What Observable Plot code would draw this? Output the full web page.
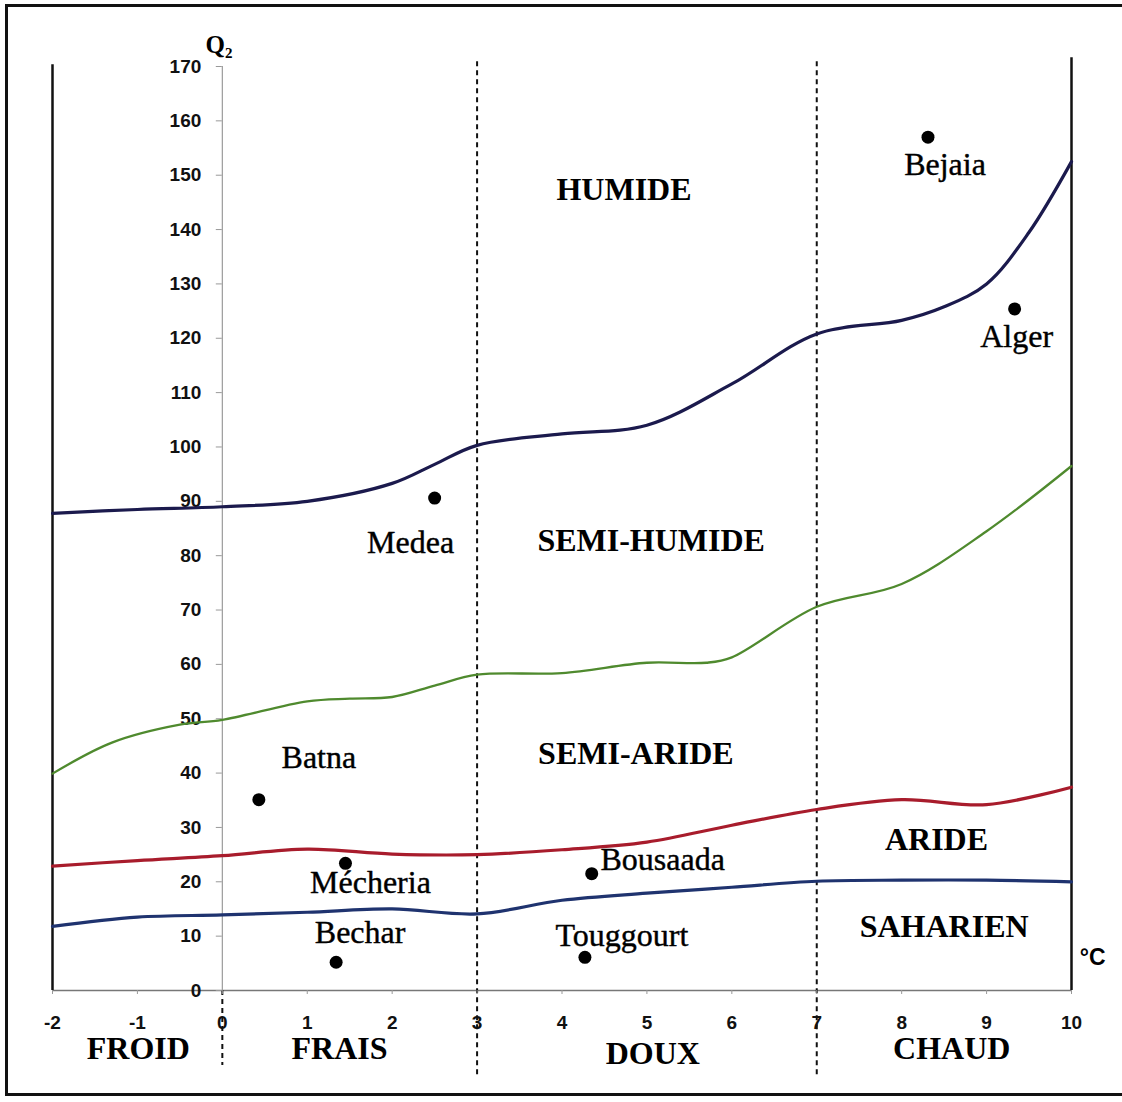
<!DOCTYPE html>
<html>
<head>
<meta charset="utf-8">
<script src="https://cdn.jsdelivr.net/npm/d3@7"></script>
<script src="https://cdn.jsdelivr.net/npm/@observablehq/plot@0.6"></script>
<style>
  html, body { margin: 0; padding: 0; background: #fff; }
  #wrap { position: relative; width: 1122px; height: 1102px; overflow: hidden; }
  #frame { position: absolute; left: 5px; top: 4px; width: 1140px; height: 1092px; border: 3px solid #111; box-sizing: border-box; }
  #chart { position: absolute; left: 0; top: 0; }
</style>
</head>
<body>
<div id="wrap"><div id="frame"></div><div id="chart"></div></div>
<script>
// ---- Data ----
const tempTicks = [-2, -1, 0, 1, 2, 3, 4, 5, 6, 7, 8, 9, 10];
const q2Ticks = [0, 10, 20, 30, 40, 50, 60, 70, 80, 90, 100, 110, 120, 130, 140, 150, 160, 170];

// Boundary curves (x = m, °C ; y = Q2)
const humideT = [-2, -1, 0, 1, 2, 2.5, 3, 4, 5, 6, 7, 8, 8.5, 9, 9.5, 10];
const humideQ = [87.8, 88.5, 89.0, 90.0, 93.3, 96.8, 100.3, 102.4, 104.0, 111.6, 120.8, 123.3, 125.8, 130.0, 139.5, 152.5];

const semiHumideT = [-2, -1.3, -0.5, 0, 1, 1.5, 2, 2.5, 3, 4, 5, 5.7, 6, 7, 8, 9, 10];
const semiHumideQ = [39.9, 45.6, 48.9, 49.8, 53.2, 53.7, 54.0, 56.1, 58.1, 58.4, 60.3, 60.3, 61.3, 70.6, 74.8, 84.5, 96.5];

const arideT = [-2, -1, 0, 1, 2, 3, 4, 5, 6, 7, 8, 9, 10];
const arideQ = [22.9, 23.9, 24.8, 26.0, 25.1, 25.0, 25.9, 27.3, 30.4, 33.3, 35.1, 34.2, 37.4];

const saharienT = [-2, -1, 0, 1, 2, 3, 4, 5, 6, 7, 8, 9, 10];
const saharienQ = [11.8, 13.5, 13.9, 14.4, 15.0, 14.1, 16.6, 17.9, 19.0, 20.1, 20.3, 20.3, 20.0];

// Stations
const stationNames = ["Medea", "Batna", "Mécheria", "Bechar", "Bousaada", "Touggourt", "Bejaia", "Alger"];
const stationM = [2.50, 0.43, 1.45, 1.34, 4.35, 4.27, 8.31, 9.33];
const stationQ2 = [90.6, 35.1, 23.4, 5.2, 21.5, 6.1, 157.0, 125.4];

// Bioclimatic zones
const zoneNames = ["HUMIDE", "SEMI-HUMIDE", "SEMI-ARIDE", "ARIDE", "SAHARIEN"];
const zoneM = [4.73, 5.05, 4.87, 8.41, 8.50];
const zoneQ2 = [147.4, 82.8, 43.6, 27.8, 11.8];

// Thermal variants (below the axis)
const thermalNames = ["FROID", "FRAIS", "DOUX", "CHAUD"];
const thermalM = [-0.99, 1.38, 5.07, 8.59];
const thermalQ2 = [-10.8, -10.8, -11.7, -10.8];

// Thermal class limits
const limitsM = [3, 7];

// ---- Layout (label offsets in pixels, relative to each station dot) ----
const labelOffsets = [[-24, 45], [60, -42], [25, 19], [24, -29], [71, -14], [37, -22], [17, 28], [2, 28]];

const curveColors = {humide: "#1b1a4d", semiHumide: "#4f8a2e", aride: "#a81c2c", saharien: "#1f336f"};

const serif = "'Liberation Serif', 'Times New Roman', serif";
const sans = "'Liberation Sans', Arial, sans-serif";

function series(ts, qs) { return ts.map((t, i) => ({t, q: qs[i]})); }
const stations = stationNames.map((name, i) => ({name, t: stationM[i], q: stationQ2[i]}));
const zones = zoneNames.map((name, i) => ({name, t: zoneM[i], q: zoneQ2[i]}));
const thermals = thermalNames.map((name, i) => ({name, t: thermalM[i], q: thermalQ2[i]}));

const chart = Plot.plot({
  width: 1122,
  height: 1102,
  marginLeft: 52,
  marginRight: 51,
  marginTop: 66,
  marginBottom: 112,
  style: {background: "transparent", overflow: "visible"},
  x: {domain: [-2, 10]},
  y: {domain: [0, 170]},
  marks: [
    // frame lines
    Plot.ruleY([0], {x1: -2, x2: 10, stroke: "#777", strokeWidth: 1.3}),
    Plot.ruleX([-2], {y1: 0, y2: 170.3, stroke: "#111", strokeWidth: 2.5}),
    Plot.ruleX([10], {y1: 0, y2: 171.6, stroke: "#111", strokeWidth: 2.5}),
    // y axis line at 0 °C
    Plot.ruleX([0], {y1: 0, y2: 170, stroke: "#9a9a9a", strokeWidth: 1.2}),
    Plot.ruleX([0], {y1: 0, y2: -13.8, stroke: "#111", strokeWidth: 2, strokeDasharray: "5,4"}),
    // thermal limits
    Plot.ruleX(limitsM, {y1: -15.5, y2: 171, stroke: "#111", strokeWidth: 2, strokeDasharray: "5,4"}),
    // axes
    Plot.axisY(q2Ticks, {anchor: "left", dx: 169.8, tickSize: 6, tickPadding: 15, stroke: "#999",
      fill: "#111", fontSize: 19, fontWeight: "bold", fontFamily: sans, label: null, tickFormat: d => String(d)}),
    Plot.axisX(tempTicks, {anchor: "bottom", tickSize: 4, tickPadding: 21, stroke: "#999",
      fill: "#111", fontSize: 19, fontWeight: "bold", fontFamily: sans, label: null, tickFormat: d => String(d)}),
    // boundary curves
    Plot.line(series(humideT, humideQ), {x: "t", y: "q", curve: "catmull-rom", stroke: curveColors.humide, strokeWidth: 3.2}),
    Plot.line(series(semiHumideT, semiHumideQ), {x: "t", y: "q", curve: "catmull-rom", stroke: curveColors.semiHumide, strokeWidth: 2.3}),
    Plot.line(series(arideT, arideQ), {x: "t", y: "q", curve: "catmull-rom", stroke: curveColors.aride, strokeWidth: 3.2}),
    Plot.line(series(saharienT, saharienQ), {x: "t", y: "q", curve: "catmull-rom", stroke: curveColors.saharien, strokeWidth: 3.2}),
    // stations
    Plot.dot(stations, {x: "t", y: "q", r: 6.5, fill: "#000", stroke: "none"}),
    ...stations.map((s, i) => Plot.text([s], {x: "t", y: "q", text: "name", dx: labelOffsets[i][0], dy: labelOffsets[i][1],
      fontSize: 32, fontFamily: serif, fill: "#000", stroke: "#000", strokeWidth: 0.4, textAnchor: "middle", lineAnchor: "middle"})),
    // zone labels
    Plot.text(zones, {x: "t", y: "q", text: "name", fontSize: 32, fontWeight: "bold", fontFamily: serif, fill: "#000",
      textAnchor: "middle", lineAnchor: "middle"}),
    // thermal labels
    Plot.text(thermals, {x: "t", y: "q", text: "name", fontSize: 32, fontWeight: "bold", fontFamily: serif, fill: "#000",
      textAnchor: "middle", lineAnchor: "middle"}),
    // axis titles
    Plot.text(["Q₂"], {x: -0.04, y: 173.9, text: d => d, fontSize: 25, fontWeight: "bold", fontFamily: serif, fill: "#000",
      textAnchor: "middle", lineAnchor: "middle"}),
    Plot.text(["°C"], {x: 10.25, y: 6.1, text: d => d, fontSize: 23, fontWeight: "bold", fontFamily: sans, fill: "#000",
      textAnchor: "middle", lineAnchor: "middle"})
  ]
});
document.getElementById("chart").appendChild(chart);
</script>
</body>
</html>
